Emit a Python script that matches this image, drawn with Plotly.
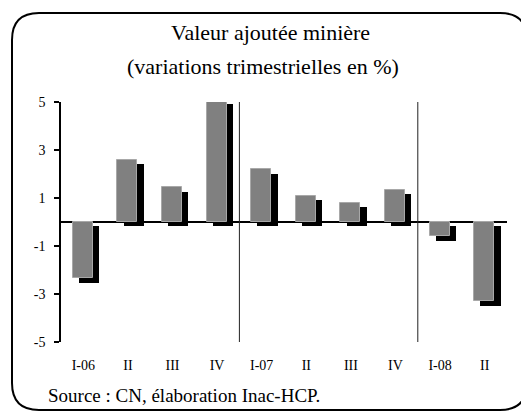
import plotly.graph_objects as go

tick_labels = ["I-06", "II", "III", "IV", "I-07", "II", "III", "IV", "I-08", "II"]
values = [-2.35, 2.6, 1.45, 5.1, 2.2, 1.1, 0.8, 1.35, -0.6, -3.3]
y_ticks = [-5, -3, -1, 1, 3, 5]
y_tick_labels = ["-5", "-3", "-1", "1", "3", "5"]

W, H = 521, 412
# plot area in pixels
L, R, T, B = 61, 507, 102, 342
x_idx = list(range(len(tick_labels)))

SERIF = "Liberation Serif"
shadow_dy = 0.18

fig = go.Figure()
fig.add_trace(go.Bar(
    x=x_idx, y=values, base=[-shadow_dy] * len(values),
    width=0.45, offset=-0.225 + 0.13,
    marker=dict(color="black", line=dict(width=0)),
    cliponaxis=False, showlegend=False, hoverinfo="skip",
))
fig.add_trace(go.Bar(
    x=x_idx, y=values,
    width=0.45, offset=-0.235,
    marker=dict(color="#808080", line=dict(color="#a8a8a8", width=1)),
    cliponaxis=False, showlegend=False,
))

def px(x):
    return x / W

def py(y):
    return 1 - y / H

# rounded frame
x0, x1, y0, y1, r = 12, 527, 13, 410, 27
path = (f"M {px(x0)},{py(y0 + r)} Q {px(x0)},{py(y0)} {px(x0 + r)},{py(y0)} "
        f"L {px(x1 - r)},{py(y0)} Q {px(x1)},{py(y0)} {px(x1)},{py(y0 + r)} "
        f"L {px(x1)},{py(y1 - r)} Q {px(x1)},{py(y1)} {px(x1 - r)},{py(y1)} "
        f"L {px(x0 + r)},{py(y1)} Q {px(x0)},{py(y1)} {px(x0)},{py(y1 - r)} Z")
shapes = [dict(type="path", path=path, xref="paper", yref="paper",
               line=dict(color="black", width=2), layer="above")]
for xs in (3.5, 7.5):
    shapes.append(dict(type="line", xref="x", yref="y", x0=xs, x1=xs, y0=-5, y1=5,
                       line=dict(color="#222", width=1)))

annotations = [
    dict(text="Valeur ajoutée minière", x=px(270), y=py(33), xref="paper", yref="paper",
         showarrow=False, font=dict(family=SERIF, size=22, color="black"), xanchor="center", yanchor="middle"),
    dict(text="(variations trimestrielles en %)", x=px(263), y=py(66), xref="paper", yref="paper",
         showarrow=False, font=dict(family=SERIF, size=22, color="black"), xanchor="center", yanchor="middle"),
    dict(text="Source : CN, élaboration Inac-HCP.", x=px(46), y=py(395), xref="paper", yref="paper",
         showarrow=False, font=dict(family=SERIF, size=19, color="black"), xanchor="left", yanchor="middle"),
]

fig.update_layout(
    template="none",
    width=W, height=H,
    margin=dict(l=0, r=0, t=0, b=0, pad=0),
    paper_bgcolor="white", plot_bgcolor="white",
    barmode="overlay", bargap=0,
    shapes=shapes, annotations=annotations,
    xaxis=dict(domain=[L / W, R / W], range=[-0.5, 9.5], automargin=False,
               tickmode="array", tickvals=x_idx, ticktext=tick_labels,
               showline=False, showgrid=False, zeroline=False,
               ticks="outside", ticklen=10, tickcolor="rgba(0,0,0,0)",
               tickfont=dict(family=SERIF, size=14, color="black")),
    yaxis=dict(domain=[1 - B / H, 1 - T / H], range=[-5, 5], automargin=False,
               tickmode="array", tickvals=y_ticks, ticktext=y_tick_labels,
               showline=True, linecolor="black", linewidth=1.5,
               ticks="outside", ticklen=5, tickcolor="black", tickwidth=1.5,
               showgrid=False, zeroline=True, zerolinecolor="black", zerolinewidth=1.6,
               ticklabelstandoff=6,
               tickfont=dict(family=SERIF, size=14, color="black")),
)

fig.write_html("out.html", config={"displayModeBar": False},
               post_script="document.body.style.margin='0px';document.body.style.overflow='hidden';")
